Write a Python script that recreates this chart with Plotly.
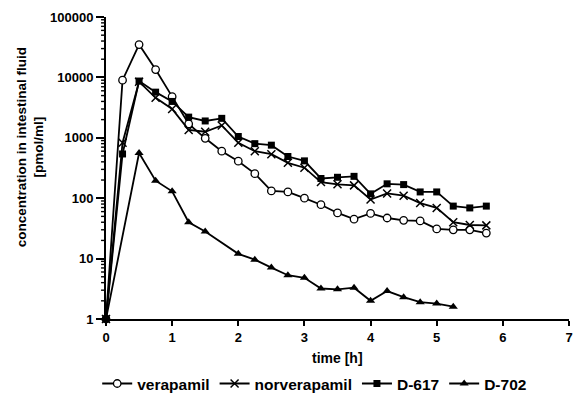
import math
import plotly.graph_objects as go

# ---- data ----
time_h = [0, 0.25, 0.5, 0.75, 1.0, 1.25, 1.5, 1.75, 2.0, 2.25, 2.5, 2.75,
          3.0, 3.25, 3.5, 3.75, 4.0, 4.25, 4.5, 4.75, 5.0, 5.25, 5.5, 5.75]

verapamil = [1, 9000, 35000, 13500, 4800, 1700, 980, 600, 410, 255, 132, 127,
             100, 78, 57, 45, 56, 47, 43, 42, 31, 30, 30, 26.5]

norverapamil = [1, 830, 8500, 4600, 3000, 1350, 1260, 1600, 830, 600, 535, 385,
                320, 185, 170, 163, 95, 120, 110, 83, 69, 40, 36, 35.5]

d617 = [1, 540, 8700, 5700, 4000, 2200, 1900, 2100, 1050, 800, 755, 490,
        415, 212, 222, 230, 118, 173, 168, 127, 127, 74, 69, 74]

time_d702 = [0, 0.5, 0.75, 1.0, 1.25, 1.5, 2.0, 2.25, 2.5, 2.75,
             3.0, 3.25, 3.5, 3.75, 4.0, 4.25, 4.5, 4.75, 5.0, 5.25]
d702 = [1, 560, 195, 130, 40, 28, 12, 9.6, 7.1, 5.3,
        4.8, 3.2, 3.1, 3.3, 2.0, 2.9, 2.3, 1.9, 1.8, 1.6]

x_ticks = [0, 1, 2, 3, 4, 5, 6, 7]
y_ticks = [1, 10, 100, 1000, 10000, 100000]
y_ticklabels = ["1", "10", "100", "1000", "10000", "100000"]
y_minor = [m * d for d in [1, 10, 100, 1000, 10000] for m in range(2, 10)]

FONT = "Liberation Sans"
BLACK = "black"
Y_MIN_EXP, Y_MAX_EXP = 0, 5
PLOT_W = 578 - 106 - 5

fig = go.Figure()

line_style = dict(color=BLACK, width=1.8)

fig.add_trace(go.Scatter(
    x=time_h, y=verapamil, name="verapamil", mode="lines+markers",
    line=line_style, cliponaxis=False,
    marker=dict(symbol="circle", size=7.5, color="white",
                line=dict(color=BLACK, width=1.3))))

fig.add_trace(go.Scatter(
    x=time_h, y=norverapamil, name="norverapamil", mode="lines+markers",
    line=line_style, cliponaxis=False,
    marker=dict(symbol="x-thin-open", size=8, color=BLACK,
                line=dict(color=BLACK, width=1.5))))

fig.add_trace(go.Scatter(
    x=time_h, y=d617, name="D-617", mode="lines+markers",
    line=line_style, cliponaxis=False,
    marker=dict(symbol="square", size=7, color=BLACK,
                line=dict(color=BLACK, width=0))))

fig.add_trace(go.Scatter(
    x=time_d702, y=d702, name="D-702", mode="lines+markers",
    line=line_style, cliponaxis=False,
    marker=dict(symbol="triangle-up", size=8, color=BLACK,
                line=dict(color=BLACK, width=0))))

# minor ticks of the log axis (2..9 in every decade), placed from the tick values
minor_shapes = []
for v in y_minor:
    yp = (math.log10(v) - Y_MIN_EXP) / (Y_MAX_EXP - Y_MIN_EXP)
    minor_shapes.append(dict(type="line", xref="paper", yref="paper",
                             x0=-5.0 / PLOT_W, x1=0, y0=yp, y1=yp,
                             line=dict(color=BLACK, width=1.4), layer="above"))

fig.update_layout(
    width=578, height=406,
    margin=dict(l=106, r=5, t=17, b=76),
    paper_bgcolor="white", plot_bgcolor="white",
    font=dict(family=FONT, color=BLACK, size=13, weight="bold"),
    showlegend=True,
    legend=dict(orientation="h", x=-0.019, xanchor="left", y=-0.215, yanchor="middle",
                font=dict(family=FONT, size=15.5, color=BLACK, weight="bold"),
                itemwidth=30, tracegroupgap=0, bgcolor="rgba(0,0,0,0)"),
    xaxis=dict(
        range=[0, 7], tickmode="array", tickvals=x_ticks,
        ticktext=[str(v) for v in x_ticks],
        showline=True, linecolor=BLACK, linewidth=2,
        ticks="outside", ticklen=5, tickwidth=1.5, tickcolor=BLACK,
        showgrid=False, zeroline=False,
        tickfont=dict(family=FONT, size=13, color=BLACK, weight="bold")),
    yaxis=dict(
        type="log", range=[Y_MIN_EXP, Y_MAX_EXP],
        tickmode="array", tickvals=y_ticks, ticktext=y_ticklabels,
        showline=True, linecolor=BLACK, linewidth=2,
        ticks="outside", ticklen=8, tickwidth=1.8, tickcolor=BLACK,
        showgrid=False, zeroline=False,
        tickfont=dict(family=FONT, size=13, color=BLACK, weight="bold")),
    shapes=minor_shapes,
    annotations=[
        dict(text="time [h]", xref="paper", yref="paper", x=0.5, y=-0.128,
             xanchor="center", yanchor="middle", showarrow=False,
             font=dict(family=FONT, size=14, color=BLACK, weight="bold")),
        dict(text="concentration in intestinal fluid<br>[pmol/ml]",
             xref="paper", yref="paper", x=-0.164, y=0.569,
             xanchor="center", yanchor="middle", showarrow=False, textangle=-90,
             font=dict(family=FONT, size=13.5, color=BLACK, weight="bold")),
    ],
)

fig.write_html("out.html")
